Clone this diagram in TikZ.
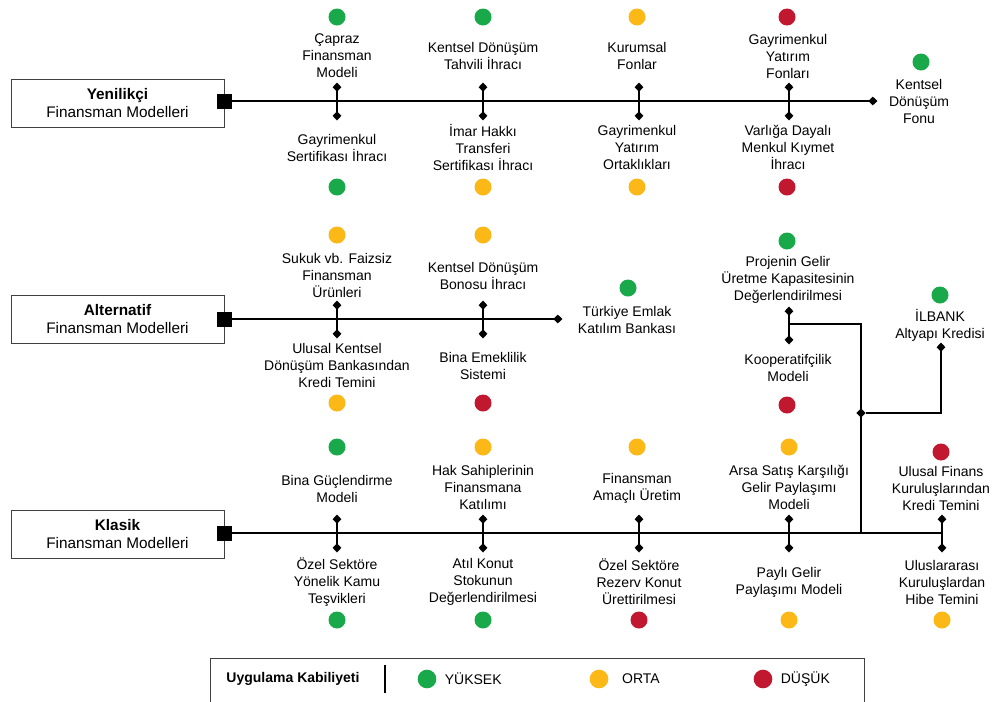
\documentclass[tikz,border=0pt]{standalone}
\usepackage{fontspec}
\setmainfont{Liberation Sans}
\usepackage{xcolor}
\usepackage{tikz}
\usetikzlibrary{arrows.meta, positioning, shapes.geometric}
\definecolor{high}{HTML}{19A84A}
\definecolor{mid}{HTML}{FBB817}
\definecolor{low}{HTML}{C1172F}
\newcommand{\itemfont}{\fontsize{10.5pt}{12.75pt}\selectfont}
\newcommand{\boxfont}{\fontsize{11.5pt}{13.5pt}\selectfont}
\tikzset{
    model_box/.style = {draw=black!75, line width=0.6pt, minimum width=159.75pt,
        minimum height=36pt, inner sep=0pt, align=center, font=\boxfont},
    start_mark/.style = {fill=black, minimum size=11.25pt, inner sep=0pt},
    item/.style = {align=center, font=\itemfont, inner sep=1pt},
    dot/.style = {circle, inner sep=0pt, minimum size=12.75pt},
    dot_high/.style = {dot, fill=high},
    dot_mid/.style = {dot, fill=mid},
    dot_low/.style = {dot, fill=low},
    legend_dot/.style = {dot, minimum size=14pt},
    main_line/.style = {line width=1.4pt},
    tick_line/.style = {line width=1.4pt, <->},
    split_mark/.style = {diamond, fill=black, minimum size=7pt, inner sep=0pt},
}

\begin{document}
\begin{tikzpicture}[>={Diamond[length=7pt,width=6.5pt]}, x=0.75pt, y=-0.75pt]
        \useasboundingbox (0,0) rectangle (992,701);
        % Yenilikci
        \node [model_box] (yen) at (117.5,103) {\textbf{Yenilikçi}\\Finansman Modelleri};
        \node [start_mark] (yen_sq) at (224.5,101) {};
        \coordinate (yen_end) at (877.5,101);
        \draw [main_line, ->] (yen_sq) -- (yen_end);
        \coordinate (yen_1a) at (337,82.5);  \coordinate (yen_1b) at (337,120.5);
        \coordinate (yen_2a) at (483,82.5);  \coordinate (yen_2b) at (483,120.5);
        \coordinate (yen_3a) at (639,82.5);  \coordinate (yen_3b) at (639,120.5);
        \coordinate (yen_4a) at (789,82.5);  \coordinate (yen_4b) at (789,120.5);
        \draw [tick_line] (yen_1a) -- (yen_1b);
        \draw [tick_line] (yen_2a) -- (yen_2b);
        \draw [tick_line] (yen_3a) -- (yen_3b);
        \draw [tick_line] (yen_4a) -- (yen_4b);
        \node [item] (capraz) at (337,56) {Çapraz\\Finansman\\Modeli};
        \node [dot_high] (capraz_d) at (337,17) {};
        \node [item] (tahvil) at (483,56) {Kentsel Dönüşüm\\Tahvili İhracı};
        \node [dot_high] (tahvil_d) at (483,17) {};
        \node [item] (kurumsal) at (637,56) {Kurumsal\\Fonlar};
        \node [dot_mid] (kurumsal_d) at (637,17) {};
        \node [item] (gyf) at (788,56) {Gayrimenkul\\Yatırım\\Fonları};
        \node [dot_low] (gyf_d) at (787,17) {};
        \node [item] (sertifika) at (337,148) {Gayrimenkul\\Sertifikası İhracı};
        \node [dot_high] (sertifika_d) at (337,187) {};
        \node [item] (imar) at (483,147) {İmar Hakkı\\Transferi\\Sertifikası İhracı};
        \node [dot_mid] (imar_d) at (483,187) {};
        \node [item] (gyo) at (637,147) {Gayrimenkul\\Yatırım\\Ortaklıkları};
        \node [dot_mid] (gyo_d) at (637,187) {};
        \node [item] (varlik) at (788,147) {Varlığa Dayalı\\Menkul Kıymet\\İhracı};
        \node [dot_low] (varlik_d) at (787,187) {};
        \node [item] (fon) at (919,101) {Kentsel\\Dönüşüm\\Fonu};
        \node [dot_high] (fon_d) at (921,62) {};
        % Alternatif
        \node [model_box] (alt) at (117.5,319.5) {\textbf{Alternatif}\\Finansman Modelleri};
        \node [start_mark] (alt_sq) at (224.5,319) {};
        \coordinate (alt_end) at (562.5,319);
        \draw [main_line, ->] (alt_sq) -- (alt_end);
        \coordinate (alt_1a) at (337,300.5);  \coordinate (alt_1b) at (337,338.5);
        \coordinate (alt_2a) at (483,300.5);  \coordinate (alt_2b) at (483,338.5);
        \draw [tick_line] (alt_1a) -- (alt_1b);
        \draw [tick_line] (alt_2a) -- (alt_2b);
        \node [item] (sukuk) at (337,275) {Sukuk vb. Faizsiz\\Finansman\\Ürünleri};
        \node [dot_mid] (sukuk_d) at (337,235) {};
        \node [item] (bono) at (483,276) {Kentsel Dönüşüm\\Bonosu İhracı};
        \node [dot_mid] (bono_d) at (483,235) {};
        \node [item] (ulusal) at (337,365) {Ulusal Kentsel\\Dönüşüm Bankasından\\Kredi Temini};
        \node [dot_mid] (ulusal_d) at (337,403) {};
        \node [item] (emeklilik) at (483,366) {Bina Emeklilik\\Sistemi};
        \node [dot_low] (emeklilik_d) at (483,403) {};
        \node [item] (katilim) at (627,319.5) {Türkiye Emlak\\Katılım Bankası};
        \node [dot_high] (katilim_d) at (628,288) {};
        \node [item] (proje) at (788,280) {Projenin Gelir\\Üretme Kapasitesinin\\Değerlendirilmesi};
        \node [dot_high] (proje_d) at (787,241) {};
        \node [item] (koop) at (788,368) {Kooperatifçilik\\Modeli};
        \node [dot_low] (koop_d) at (787,405) {};
        \node [item] (ilbank) at (940,325) {İLBANK\\Altyapı Kredisi};
        \node [dot_high] (ilbank_d) at (940,295) {};
        % Klasik
        \node [model_box] (kla) at (117.5,534) {\textbf{Klasik}\\Finansman Modelleri};
        \node [start_mark] (kla_sq) at (224.5,533) {};
        \coordinate (kla_end) at (942,533);
        \draw [main_line] (kla_sq) -- (kla_end);
        \coordinate (kla_1a) at (337,514.5);  \coordinate (kla_1b) at (337,552.5);
        \coordinate (kla_2a) at (483,514.5);  \coordinate (kla_2b) at (483,552.5);
        \coordinate (kla_3a) at (639,514.5);  \coordinate (kla_3b) at (639,552.5);
        \coordinate (kla_4a) at (789,514.5);  \coordinate (kla_4b) at (789,552.5);
        \coordinate (kla_5a) at (942,514.5);  \coordinate (kla_5b) at (942,552.5);
        \draw [tick_line] (kla_1a) -- (kla_1b);
        \draw [tick_line] (kla_2a) -- (kla_2b);
        \draw [tick_line] (kla_3a) -- (kla_3b);
        \draw [tick_line] (kla_4a) -- (kla_4b);
        \draw [tick_line] (kla_5a) -- (kla_5b);
        \node [item] (guclen) at (337,489) {Bina Güçlendirme\\Modeli};
        \node [dot_high] (guclen_d) at (337,447) {};
        \node [item] (hak) at (483,487) {Hak Sahiplerinin\\Finansmana\\Katılımı};
        \node [dot_mid] (hak_d) at (483,447) {};
        \node [item] (uretim) at (637,488) {Finansman\\Amaçlı Üretim};
        \node [dot_mid] (uretim_d) at (637,447) {};
        \node [item] (arsa) at (789,487) {Arsa Satış Karşılığı\\Gelir Paylaşımı\\Modeli};
        \node [dot_mid] (arsa_d) at (789,447) {};
        \node [item] (kredi) at (941,488) {Ulusal Finans\\Kuruluşlarından\\Kredi Temini};
        \node [dot_low] (kredi_d) at (941,452) {};
        \node [item] (tesvik) at (337,582) {Özel Sektöre\\Yönelik Kamu\\Teşvikleri};
        \node [dot_high] (tesvik_d) at (337,620) {};
        \node [item] (atil) at (483,582) {Atıl Konut\\Stokunun\\Değerlendirilmesi};
        \node [dot_high] (atil_d) at (483,620) {};
        \node [item] (rezerv) at (639,582) {Özel Sektöre\\Rezerv Konut\\Ürettirilmesi};
        \node [dot_low] (rezerv_d) at (639,620) {};
        \node [item] (payli) at (789,582) {Paylı Gelir\\Paylaşımı Modeli};
        \node [dot_mid] (payli_d) at (789,620) {};
        \node [item] (hibe) at (942,582) {Uluslararası\\Kuruluşlardan\\Hibe Temini};
        \node [dot_mid] (hibe_d) at (942,620) {};
        % kooperatif branch down to klasik
        \coordinate (koop_1a) at (789,306.5);  \coordinate (koop_1b) at (789,344.5);
        \draw [tick_line] (koop_1a) -- (koop_1b);
        \coordinate (koop_mid) at (789,324);
        \coordinate (kla_join) at (861,533);
        \coordinate (ilbank_end) at (941,342.5);
        \draw [main_line] (koop_mid) -| (kla_join);
        \node [split_mark] (split) at (861,413) {};
        \draw [main_line, ->] (split) -| (ilbank_end);
        % legend
        \draw [black!75, line width=0.6pt] (210,702) -- (210,658) -- (864,658) -- (864,702);
        \node [item, font=\itemfont\bfseries] (leg_title) at (293,679) {Uygulama Kabiliyeti};
        \coordinate (sep_a) at (385,665);
        \coordinate (sep_b) at (385,693);
        \draw [line width=1pt] (sep_a) -- (sep_b);
        \node [legend_dot, fill=high] (leg_high) at (427,679) {};
        \node [item, right=5pt of leg_high] {YÜKSEK};
        \node [legend_dot, fill=mid] (leg_mid) at (599,679) {};
        \node [item, right=9pt of leg_mid] {ORTA};
        \node [legend_dot, fill=low] (leg_low) at (763,679) {};
        \node [item, right=5pt of leg_low] {DÜŞÜK};
\end{tikzpicture}
\end{document}
